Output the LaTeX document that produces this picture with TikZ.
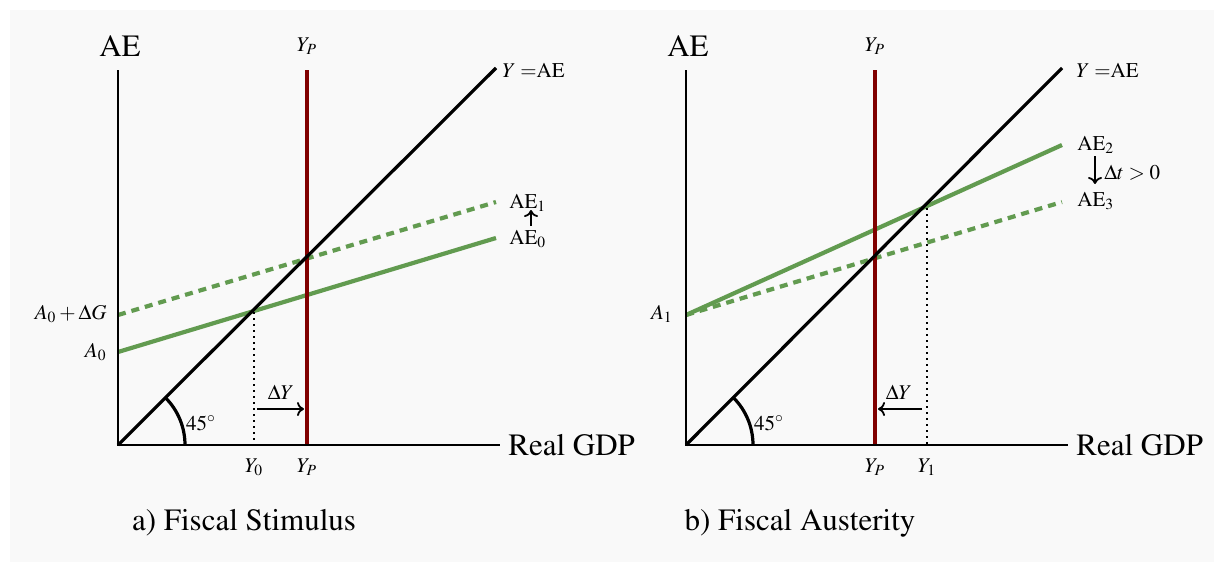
\documentclass[tikz,border=0pt]{standalone}
\usepackage[T1]{fontenc}
\usepackage{mathptmx}
\usetikzlibrary{arrows.meta}
\definecolor{bgc}{HTML}{F9F9F9}
\definecolor{aegreen}{RGB}{98,155,80}
\definecolor{ypred}{RGB}{128,0,0}
\tikzset{
  axis/.style={line width=1pt},
  diag/.style={line width=1.6pt},
  aeline/.style={line width=2.1pt, color=aegreen},
  aedash/.style={aeline, dash pattern=on 4pt off 3pt},
  potline/.style={line width=2pt, color=ypred},
  guide/.style={line width=1pt, dotted},
  shiftarrow/.style={line width=0.9pt, -{To[length=3.5pt,width=7pt]}},
  big/.style={font=\fontfamily{ptm}\fontsize{15.5}{18}\selectfont, inner sep=0pt},
  small/.style={font=\fontfamily{ptm}\fontsize{10.5}{12}\selectfont, inner sep=0pt},
}
\begin{document}
\begin{tikzpicture}[x=0.5pt,y=-0.5pt]
\useasboundingbox (0,0) rectangle (1214,562);
\fill[bgc] (10,10) rectangle (1214,562);

% ---------- panel a ----------
\coordinate (a-O) at (118,445);
\coordinate (a-top) at (118,70);
\coordinate (a-xend) at (500,445);
\coordinate (a-dend) at (496,68);
\coordinate (a-redtop) at (307,70);
\coordinate (a-redbot) at (307,445);
\coordinate (a-ae0s) at (118,352);
\coordinate (a-ae0e) at (496,238);
\coordinate (a-ae1s) at (118,315);
\coordinate (a-ae1e) at (496,202);
\coordinate (a-eq) at (254,312);
\coordinate (a-eqb) at (254,445);
\coordinate (a-arcs) at (185,445);

\draw[aedash] (a-ae1s) -- (a-ae1e);
\draw[aeline] (a-ae0s) -- (a-ae0e);
\draw[potline] (a-redtop) -- (a-redbot);
\draw[diag] (a-O) -- (a-dend);
\draw[axis] (a-top) -- (a-O) -- (a-xend);
\draw[guide] (a-eq) -- (a-eqb);
\draw[diag] (a-arcs) arc[start angle=0, end angle=45, radius=33.5pt];

\node[big] (a-AE) at (120,46) {AE};
\node[big, anchor=west] (a-gdp) at (508,445) {Real GDP};
\node[small, anchor=west] (a-yae) at (502,70) {$Y=$AE};
\node[small] (a-ypt) at (307,46) {$Y_P$};
\node[small] (a-ypb) at (307,467) {$Y_P$};
\node[small] (a-y0) at (254,467) {$Y_0$};
\node[small] (a-45) at (201,423) {$45^\circ$};
\node[small, anchor=east] (a-a0) at (107,352) {$A_0$};
\node[small, anchor=east] (a-a0g) at (107,314) {$A_0+\Delta G$};
\node[small, anchor=west] (a-l1) at (509,203) {AE$_1$};
\node[small, anchor=west] (a-l0) at (509,239) {AE$_0$};
\coordinate (a-ars) at (531,226);
\coordinate (a-are) at (531,210);
\draw[shiftarrow] (a-ars) -- (a-are);
\coordinate (a-dys) at (257,409);
\coordinate (a-dye) at (304,409);
\draw[shiftarrow] (a-dys) -- (a-dye);
\node[small] (a-dy) at (281,392) {$\Delta Y$};
\node[big] (a-cap) at (244,523) {a) Fiscal Stimulus};

% ---------- panel b ----------
\coordinate (b-O) at (686,445);
\coordinate (b-top) at (686,70);
\coordinate (b-xend) at (1068,445);
\coordinate (b-dend) at (1062,68);
\coordinate (b-redtop) at (875,70);
\coordinate (b-redbot) at (875,445);
\coordinate (b-a1) at (686,315);
\coordinate (b-ae2e) at (1062,145);
\coordinate (b-ae3e) at (1062,202);
\coordinate (b-eq) at (927,208);
\coordinate (b-eqb) at (927,445);
\coordinate (b-arcs) at (753,445);

\draw[aedash] (b-a1) -- (b-ae3e);
\draw[aeline] (b-a1) -- (b-ae2e);
\draw[potline] (b-redtop) -- (b-redbot);
\draw[diag] (b-O) -- (b-dend);
\draw[axis] (b-top) -- (b-O) -- (b-xend);
\draw[guide] (b-eq) -- (b-eqb);
\draw[diag] (b-arcs) arc[start angle=0, end angle=45, radius=33.5pt];

\node[big] (b-AE) at (688,46) {AE};
\node[big, anchor=west] (b-gdp) at (1076,445) {Real GDP};
\node[small, anchor=west] (b-yae) at (1076,70) {$Y=$AE};
\node[small] (b-ypt) at (875,46) {$Y_P$};
\node[small] (b-ypb) at (875,467) {$Y_P$};
\node[small] (b-y1) at (927,467) {$Y_1$};
\node[small] (b-45) at (769,423) {$45^\circ$};
\node[small, anchor=east] (b-a1l) at (673,314) {$A_1$};
\node[small, anchor=west] (b-l2) at (1077,145) {AE$_2$};
\node[small, anchor=west] (b-l3) at (1077,201) {AE$_3$};
\coordinate (b-ars) at (1095,156);
\coordinate (b-are) at (1095,184);
\draw[shiftarrow] (b-ars) -- (b-are);
\node[small, anchor=west] (b-dt) at (1104,173) {$\Delta t>0$};
\coordinate (b-dys) at (922,409);
\coordinate (b-dye) at (878,409);
\draw[shiftarrow] (b-dys) -- (b-dye);
\node[small] (b-dy) at (899,392) {$\Delta Y$};
\node[big] (b-cap) at (800,523) {b) Fiscal Austerity};
\end{tikzpicture}
\end{document}
